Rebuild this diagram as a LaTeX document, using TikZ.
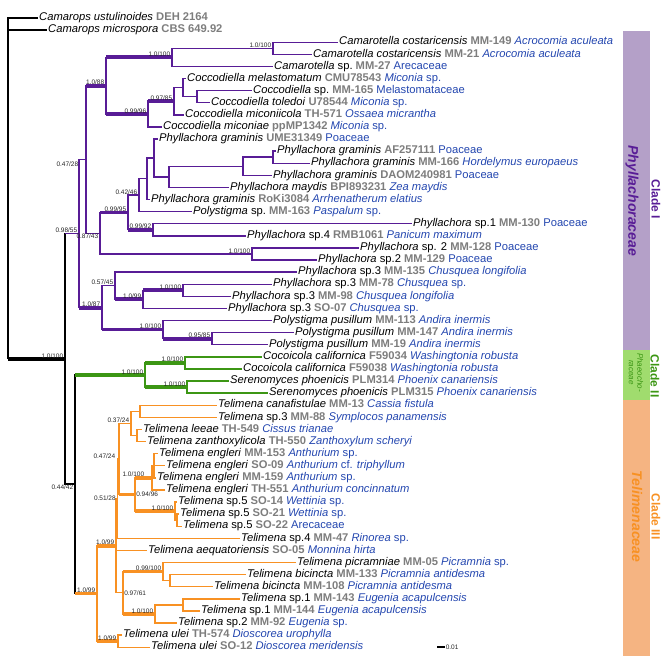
\documentclass[tikz,border=0pt]{standalone}
\usepackage{fontspec}
\setmainfont{Liberation Sans}
\usetikzlibrary{positioning,calc}
\definecolor{PhyPurple}{RGB}{88,28,150}
\definecolor{PhaGreen}{RGB}{60,150,20}
\definecolor{TelOrange}{RGB}{248,145,35}
\definecolor{BarPurple}{RGB}{180,160,200}
\definecolor{BarGreen}{RGB}{160,220,110}
\definecolor{BarOrange}{RGB}{245,180,130}
\definecolor{VoucherGrey}{RGB}{125,125,125}
\definecolor{HostBlue}{RGB}{35,70,175}
\tikzset{branch/.style={line width=1.4pt}}
\tikzset{strong/.style={line width=3.8pt}}
\tikzset{tiplabel/.style={anchor=west,inner xsep=1pt,inner ysep=0pt,text height=7.5pt,text depth=2pt,font=\fontsize{11.2}{12}\selectfont}}
\tikzset{support/.style={anchor=south east,inner sep=0.6pt,xshift=-1pt,font=\fontsize{6.5}{7}\selectfont,text=black!85}}
\tikzset{cladename/.style={rotate=-90,font=\fontsize{14}{15}\selectfont\bfseries\itshape}}
\tikzset{cladenum/.style={rotate=-90,font=\fontsize{12}{13}\selectfont\bfseries}}

\begin{document}
\begin{tikzpicture}[x=1pt,y=-12.1pt]
\useasboundingbox (0,-0.4876) rectangle (663,53.727);

% clade bars
\fill[BarPurple] (623,2.074) rectangle (650,28.44);
\fill[BarGreen] (623,28.44) rectangle (650,32.57);
\fill[BarOrange] (623,32.57) rectangle (650,53.727);
\node[cladename,PhyPurple] (phy) at (632,16.1) {Phyllachoraceae};
\node[cladenum,PhyPurple] (cl1) at (656,16.0) {Clade I};
\node[cladenum,PhaGreen] (cl2) at (655,30.6) {Clade II};
\node[rotate=-90,PhaGreen,align=center,font=\fontsize{8}{8.5}\selectfont\itshape] (pha) at (636,30.3) {Phaeocho-\\raceae};
\node[cladenum,TelOrange] (cl3) at (656,42.2) {Clade III};
\node[cladename,TelOrange] (tel) at (637,42.2) {Telimenaceae};

% internal nodes (x in px, y in rows)
\coordinate (root) at (8,29.1704);
\coordinate (IN) at (65,29.1704);
\coordinate (C1) at (79,18.8135);
\coordinate (B) at (86,12.6895);
\coordinate (D) at (106,6.5938);
\coordinate (F) at (172,4.25);
\coordinate (G) at (273,3.5);
\coordinate (H) at (148,8.9375);
\coordinate (I) at (174,7.875);
\coordinate (J) at (183,6.75);
\coordinate (K) at (197,7.5);
\coordinate (T) at (100,18.7852);
\coordinate (R) at (128,17.0703);
\coordinate (Q) at (139,15.6406);
\coordinate (P) at (147,14.2813);
\coordinate (O) at (154,12.5625);
\coordinate (N) at (169,14.125);
\coordinate (M) at (243,13.25);
\coordinate (L) at (273,12.5);
\coordinate (S) at (153,18.5);
\coordinate (U) at (252,20.5);
\coordinate (Y) at (102,24.9375);
\coordinate (X) at (115,23.125);
\coordinate (W) at (143,24.25);
\coordinate (V) at (183,23.5);
\coordinate (Z) at (163,26.75);
\coordinate (AA) at (212,27.5);
\coordinate (AB) at (75,39.5273);
\coordinate (G2) at (145,30.5);
\coordinate (CA) at (185,29.5);
\coordinate (CB) at (187,31.5);
\coordinate (O3) at (97,48.5547);
\coordinate (OD) at (116,44.6094);
\coordinate (N051) at (117.5,40.7188);
\coordinate (NA) at (119,37.4375);
\coordinate (OC) at (131,34.5);
\coordinate (OA) at (140,33.5);
\coordinate (OB) at (137,35.5);
\coordinate (EB) at (135,40.375);
\coordinate (EA) at (152,39);
\coordinate (EC) at (154,38);
\coordinate (SA) at (175,41.75);
\coordinate (SB) at (177,42.5);
\coordinate (R3) at (123,48.5);
\coordinate (PB) at (163,46.75);
\coordinate (PA) at (170,47.5);
\coordinate (QB) at (155,50.25);
\coordinate (QA) at (183,49.5);
\coordinate (UL) at (118,52.5);

% tips
\foreach \r/\x/\gen/\vch/\hst in {
  1/38/{\textit{Camarops ustulinoides}}/{DEH 2164}/{},
  2/47/{\textit{Camarops microspora}}/{CBS 649.92}/{},
  3/338/{\textit{Camarotella costaricensis}}/MM-149/{\textit{Acrocomia aculeata}},
  4/312/{\textit{Camarotella costaricensis}}/MM-21/{\textit{Acrocomia aculeata}},
  5/273/{\textit{Camarotella} sp.}/MM-27/Arecaceae,
  6/186/{\textit{Coccodiella melastomatum}}/CMU78543/{\textit{Miconia} sp.},
  7/252/{\textit{Coccodiella} sp.}/MM-165/Melastomataceae,
  8/210/{\textit{Coccodiella toledoi}}/U78544/{\textit{Miconia} sp.},
  9/184/{\textit{Coccodiella miconiicola}}/TH-571/{\textit{Ossaea micrantha}},
  10/162/{\textit{Coccodiella miconiae}}/ppMP1342/{\textit{Miconia} sp.},
  11/158/{\textit{Phyllachora graminis}}/UME31349/Poaceae,
  12/276/{\textit{Phyllachora graminis}}/AF257111/Poaceae,
  13/310/{\textit{Phyllachora graminis}}/MM-166/{\textit{Hordelymus europaeus}},
  14/272/{\textit{Phyllachora graminis}}/DAOM240981/Poaceae,
  15/229/{\textit{Phyllachora maydis}}/BPI893231/{\textit{Zea maydis}},
  16/150/{\textit{Phyllachora graminis}}/RoKi3084/{\textit{Arrhenatherum elatius}},
  17/192/{\textit{Polystigma} sp.}/MM-163/{\textit{Paspalum} sp.},
  18/412/{\textit{Phyllachora} sp.1}/MM-130/Poaceae,
  19/246/{\textit{Phyllachora} sp.4}/RMB1061/{\textit{Panicum maximum}},
  20/359/{\textit{Phyllachora} sp. 2}/MM-128/Poaceae,
  21/317/{\textit{Phyllachora} sp.2}/MM-129/Poaceae,
  22/297/{\textit{Phyllachora} sp.3}/MM-135/{\textit{Chusquea longifolia}},
  23/272/{\textit{Phyllachora} sp.3}/MM-78/{\textit{Chusquea} sp.},
  24/231/{\textit{Phyllachora} sp.3}/MM-98/{\textit{Chusquea longifolia}},
  25/227/{\textit{Phyllachora} sp.3}/SO-07/{\textit{Chusquea} sp.},
  26/272/{\textit{Polystigma pusillum}}/MM-113/{\textit{Andira inermis}},
  27/294/{\textit{Polystigma pusillum}}/MM-147/{\textit{Andira inermis}},
  28/268/{\textit{Polystigma pusillum}}/MM-19/{\textit{Andira inermis}},
  29/262/{\textit{Cocoicola californica}}/F59034/{\textit{Washingtonia robusta}},
  30/242/{\textit{Cocoicola californica}}/F59038/{\textit{Washingtonia robusta}},
  31/229/{\textit{Serenomyces phoenicis}}/PLM314/{\textit{Phoenix canariensis}},
  32/268/{\textit{Serenomyces phoenicis}}/PLM315/{\textit{Phoenix canariensis}},
  33/217/{\textit{Telimena canafistulae}}/MM-13/{\textit{Cassia fistula}},
  34/217/{\textit{Telimena} sp.3}/MM-88/{\textit{Symplocos panamensis}},
  35/142/{\textit{Telimena leeae}}/TH-549/{\textit{Cissus trianae}},
  36/146/{\textit{Telimena zanthoxylicola}}/TH-550/{\textit{Zanthoxylum scheryi}},
  37/158/{\textit{Telimena engleri}}/MM-153/{\textit{Anthurium} sp.},
  38/165/{\textit{Telimena engleri}}/SO-09/{\textit{Anthurium} cf. \textit{triphyllum}},
  39/156/{\textit{Telimena engleri}}/MM-159/{\textit{Anthurium} sp.},
  40/165/{\textit{Telimena engleri}}/TH-551/{\textit{Anthurium concinnatum}},
  41/177/{\textit{Telimena} sp.5}/SO-14/{\textit{Wettinia} sp.},
  42/179/{\textit{Telimena} sp.5}/SO-21/{\textit{Wettinia} sp.},
  43/182/{\textit{Telimena} sp.5}/SO-22/Arecaceae,
  44/240/{\textit{Telimena} sp.4}/MM-47/{\textit{Rinorea} sp.},
  45/147/{\textit{Telimena aequatoriensis}}/SO-05/{\textit{Monnina hirta}},
  46/296/{\textit{Telimena picramniae}}/MM-05/{\textit{Picramnia} sp.},
  47/246/{\textit{Telimena bicincta}}/MM-133/{\textit{Picramnia antidesma}},
  48/213/{\textit{Telimena bicincta}}/MM-108/{\textit{Picramnia antidesma}},
  49/240/{\textit{Telimena} sp.1}/MM-143/{\textit{Eugenia acapulcensis}},
  50/200/{\textit{Telimena} sp.1}/MM-144/{\textit{Eugenia acapulcensis}},
  51/177/{\textit{Telimena} sp.2}/MM-92/{\textit{Eugenia} sp.},
  52/122/{\textit{Telimena ulei}}/TH-574/{\textit{Dioscorea urophylla}},
  53/150/{\textit{Telimena ulei}}/SO-12/{\textit{Dioscorea meridensis}}
} {
  \node[tiplabel] (t\r) at (\x,\r) {\gen\ {\color{VoucherGrey}\bfseries\vch}\ {\color{HostBlue}\hst}};
}

% backbone
\foreach \p/\c in {root/t1.west, root/t2.west, root/IN, IN/C1, IN/AB, AB/G2, AB/O3}
  \draw[branch] (\p) |- (\c);
\draw[strong] (root |- IN) -- (IN);
\draw[branch,PhyPurple] (IN |- C1) -- (C1);

% Clade I
\begin{scope}[PhyPurple]
\foreach \p/\c in {C1/B, C1/Y, B/D, B/T, D/F, D/H, F/G, F/t5.west, G/t3.west, G/t4.west,
  H/I, H/t10.west, I/J, I/t9.west, J/t6.west, J/K, K/t7.west, K/t8.west,
  T/R, T/U, R/Q, R/S, Q/P, Q/t17.west, P/O, P/t16.west, O/t11.west, O/N,
  N/M, N/t15.west, M/L, M/t14.west, L/t12.west, L/t13.west,
  S/t18.west, S/t19.west, U/t20.west, U/t21.west,
  Y/X, Y/Z, X/t22.west, X/W, W/V, W/t25.west, V/t23.west, V/t24.west,
  Z/t26.west, Z/AA, AA/t27.west, AA/t28.west}
  \draw[branch] (\p) |- (\c);
\foreach \p/\c in {B/D, D/F, D/H, H/I, T/R, R/S, C1/Y, X/W, W/V, Y/Z, Z/AA}
  \draw[strong] (\p |- \c) -- (\c);
\end{scope}

% Clade II
\begin{scope}[PhaGreen]
\foreach \p/\c in {G2/CA, G2/CB, CA/t29.west, CA/t30.west, CB/t31.west, CB/t32.west}
  \draw[branch] (\p) |- (\c);
\foreach \p/\c in {AB/G2, G2/CA, G2/CB}
  \draw[strong] (\p |- \c) -- (\c);
\end{scope}

% Clade III
\begin{scope}[TelOrange]
\foreach \p/\c in {O3/OD, O3/UL, OD/N051, OD/t45.west, OD/R3, N051/NA, N051/t44.west,
  NA/OC, NA/EB, OC/OA, OC/OB, OA/t33.west, OA/t34.west, OB/t35.west, OB/t36.west,
  EB/EA, EB/SA, EA/EC, EA/t40.west, EC/t37.west, EC/t38.west, EC/t39.west,
  SA/t41.west, SA/SB, SB/t42.west, SB/t43.west,
  R3/PB, R3/QB, PB/t46.west, PB/PA, PA/t47.west, PA/t48.west,
  QB/QA, QB/t51.west, QA/t49.west, QA/t50.west, UL/t52.west, UL/t53.west}
  \draw[branch] (\p) |- (\c);
\foreach \p/\c in {AB/O3, O3/OD, O3/UL, NA/EB, EB/EA, EB/SA, R3/PB, R3/QB}
  \draw[strong] (\p |- \c) -- (\c);
\end{scope}

% support values
\foreach \n/\pp/\bs in {IN/1.0/100, C1/0.98/55, D/1.0/88, F/1.0/100, G/1.0/100, H/0.99/96,
  I/0.97/85, Q/0.42/46, R/0.99/95, S/0.99/92, U/1.0/100, X/0.57/45, Y/1.0/87, W/1.0/99,
  V/1.0/100, Z/1.0/100, AA/0.95/85, G2/1.0/100, CA/1.0/100, CB/1.0/100, O3/1.0/99,
  OD/1.0/99, OC/0.37/24, SA/1.0/100, PB/0.99/100, QB/1.0/100, UL/1.0/99}
  \node[support] at (\n) {\pp/\bs};
\node[support,anchor=north east,xshift=-6pt,yshift=-1.5pt] at (B) {0.47/28};
\node[support,anchor=north east] at (T) {0.87/43};
\node[support,anchor=north east] at (AB) {0.44/42};
\node[support,anchor=west,xshift=1.5pt] at (EB) {0.94/96};
\node[support,anchor=west,xshift=1.5pt] at (R3) {0.97/61};
\node[support,anchor=east] at (N051) {0.51/28};
\node[support,xshift=-2pt] at (NA) {0.47/24};
\node[support,xshift=-6pt] at (EA) {1.0/100};

% scale bar
\coordinate (sb) at (437,52.98);
\draw[line width=2.5pt] (sb) -- ++(8,0) coordinate (sbend);
\node[support,anchor=west,xshift=1pt] at (sbend) {0.01};
\end{tikzpicture}
\end{document}
